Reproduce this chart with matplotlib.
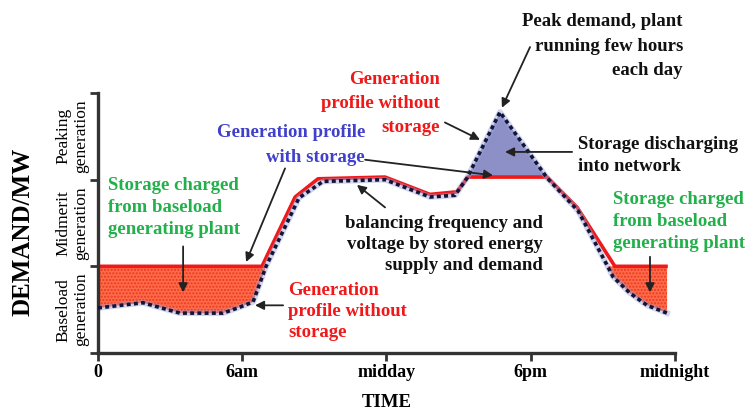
import matplotlib
matplotlib.use('Agg')
import matplotlib.pyplot as plt

plt.rcParams['font.family'] = ['Liberation Serif', 'DejaVu Serif']

# generation profile (red), hours vs demand level (0-1 baseload, 1-2 midmerit, 2-3 peaking)
gen_hours = [0, 6.82, 8.2, 9.15, 11.94, 13.81, 14.93, 15.39, 18.68, 19.93, 21.5, 23.7]
gen_level = [1.0, 1.0, 1.8, 2.01, 2.03, 1.83, 1.86, 2.03, 2.03, 1.68, 1.0, 1.0]

# demand profile (dotted)
dem_hours = [0.0, 1.87, 3.41, 5.2, 5.91, 6.45, 6.99, 8.36, 9.36, 11.94, 13.81, 14.85,
             15.35, 16.72, 18.68, 19.97, 21.2, 21.42, 22.13, 22.84, 23.67]
dem_level = [0.52, 0.58, 0.46, 0.46, 0.53, 0.59, 1.0, 1.79, 1.98, 2.0, 1.8, 1.82,
             2.02, 2.78, 2.02, 1.64, 1.0, 0.88, 0.69, 0.55, 0.46]

base_level = 1.0
mid_level = 2.03

tick_hours = [0, 6, 12, 18, 24]
tick_labels = ['0', '6am', 'midday', '6pm', 'midnight']
band_labels = ['Baseload\ngeneration', 'Midmerit\ngeneration', 'Peaking\ngeneration']

RED = '#f01818'
GREEN = '#22b04b'
BLUE = '#4040cc'
DARK = '#111111'

fig = plt.figure(figsize=(7.5, 4.15), dpi=100)
ax = fig.add_axes([98 / 750, 1 - 353 / 415, 577 / 750, 260 / 415])

# storage charging areas (below baseload line) and discharging area (peak)
left = [i for i, h in enumerate(dem_hours) if h <= 6.99]
right = [i for i, h in enumerate(dem_hours) if h >= 21.2]
peak = [i for i, h in enumerate(dem_hours) if 15.35 <= h <= 18.68]
for idx in (left, right):
    ax.fill_between([dem_hours[i] for i in idx], [dem_level[i] for i in idx], base_level,
                    facecolor='#ff6a4a', edgecolor='#e83a1e', hatch='.....', linewidth=0, zorder=1)
ax.fill_between([dem_hours[i] for i in peak], [dem_level[i] for i in peak], mid_level,
                facecolor='#8d90c6', linewidth=0, zorder=1)

ax.plot(gen_hours, gen_level, color=RED, lw=2.6, zorder=2, solid_capstyle='butt')
ax.plot(dem_hours, dem_level, color='#9aa6d8', lw=4.2, alpha=0.45, zorder=2)
ax.plot(dem_hours, dem_level, color='#14143a', lw=2.6, linestyle=(0, (1.1, 0.9)), zorder=3)

ax.set_xlim(0, 24)
ax.set_ylim(0, 3)
for s in ['top', 'right']:
    ax.spines[s].set_visible(False)
for s in ['left', 'bottom']:
    ax.spines[s].set_color('#333333')
    ax.spines[s].set_linewidth(2.4)
ax.set_yticks([0, 1, 2, 3])
ax.set_yticklabels([])
ax.set_xticks(tick_hours)
ax.set_xticklabels(tick_labels, fontsize=13, fontweight='bold')
ax.tick_params(length=6, width=2, color='#333333', pad=2)
ax.set_xlabel('TIME', fontsize=13.5, fontweight='bold', labelpad=9)

ax.text(-0.13, 1.4, 'DEMAND/MW', transform=ax.get_yaxis_transform(), rotation=90,
        ha='center', va='center', fontsize=18, fontweight='bold')
for k, lab in enumerate(band_labels):
    ax.text(-0.045, k + 0.5, lab, transform=ax.get_yaxis_transform(), rotation=90,
            ha='center', va='center', fontsize=12.5, linespacing=1.15)

arrow = dict(arrowstyle='-|>', color='#222222', lw=1.3, mutation_scale=13, shrinkA=0, shrinkB=0)


def note(txt, xy, color, ha, ls):
    ax.text(xy[0], xy[1], txt, color=color, ha=ha, va='center', multialignment=ha,
            linespacing=ls, clip_on=False, fontsize=13.5, fontweight='bold')


def arr(start, end):
    ax.annotate('', xy=end, xytext=start, arrowprops=arrow, annotation_clip=False)


note('Peak demand, plant\nrunning few hours\neach day', (24.33, 3.54), DARK, 'right', 1.56)
arr((17.97, 3.53), (16.8, 2.83))

note('Generation\nprofile without\nstorage', (14.23, 2.88), RED, 'right', 1.56)
arr((14.43, 2.66), (15.89, 2.46))

note('Generation profile\nwith storage', (11.11, 2.40), BLUE, 'right', 1.56)
arr((11.11, 2.23), (16.43, 2.05))
arr((7.78, 2.13), (6.16, 1.05))

note('Storage charged\nfrom baseload\ngenerating plant', (0.42, 1.68), GREEN, 'left', 1.39)
arr((3.54, 1.23), (3.54, 0.70))

note('Storage charged\nfrom baseload\ngenerating plant', (21.42, 1.52), GREEN, 'left', 1.39)
arr((22.96, 1.11), (22.96, 0.70))

note('Storage discharging\ninto network', (19.97, 2.28), DARK, 'left', 1.39)
arr((19.72, 2.32), (16.93, 2.32))

note('balancing frequency and\nvoltage by stored energy\nsupply and demand', (18.51, 1.25), DARK, 'right', 1.33)
arr((11.94, 1.68), (10.77, 1.94))

note('Generation\nprofile without\nstorage', (7.9, 0.48), RED, 'left', 1.33)
arr((7.7, 0.55), (6.53, 0.55))

fig.savefig('out.png', dpi=100)
